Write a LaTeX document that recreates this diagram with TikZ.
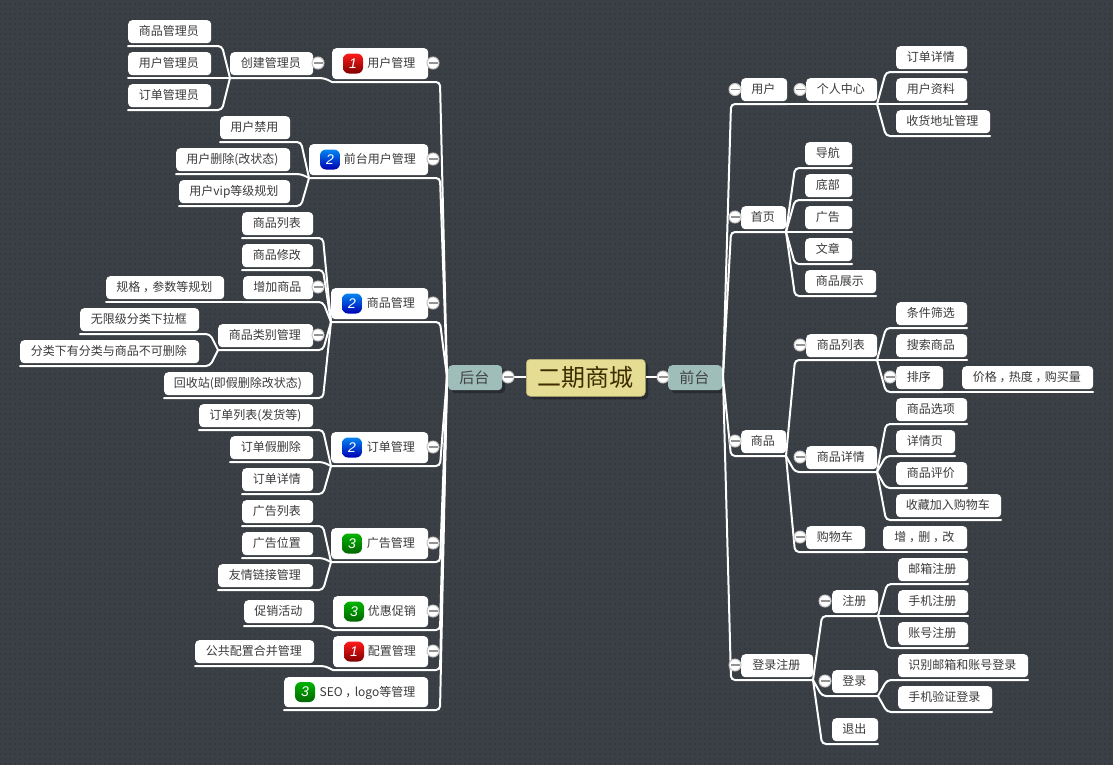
\documentclass[tikz,border=0pt]{standalone}
\usepackage{fontspec}
\setmainfont{Noto Sans CJK SC}
\newfontfamily\numfont{Liberation Sans}
\usetikzlibrary{calc,patterns.meta,shadows}
\definecolor{bgc}{HTML}{3A4045}
\definecolor{dotc}{HTML}{30353A}
\definecolor{txtc}{HTML}{3A3A3A}
\definecolor{rootc}{HTML}{E6DD95}
\definecolor{rootT}{HTML}{3F2D00}
\definecolor{brc}{HTML}{9FBDB9}
\definecolor{brT}{HTML}{444444}
\newcommand{\cma}{\hspace{.22em}，\hspace{-.22em}}
\tikzset{
 base/.style={anchor=north west,inner sep=0pt,rounded corners=4pt,font=\fontsize{12}{14}\selectfont,text=txtc},
 topic/.style={base,fill=white,text height=10pt,text depth=2pt},
 mainT/.style={topic},
 casted/.style={drop shadow={shadow xshift=3pt,shadow yshift=-3pt,fill=black,opacity=.3}},
 branchT/.style={base,casted,fill=brc,text=brT,font=\fontsize{15}{17}\selectfont},
 rootT/.style={base,casted,fill=rootc,draw=rootc!80!black,line width=.5pt,text=rootT,font=\fontsize{24}{28}\selectfont},
 link/.style={draw=white,line width=2pt,rounded corners=4pt,line cap=round},
 tog/.style={circle,draw=gray!45,fill=white,line width=1pt,minimum size=12pt,inner sep=0pt,
   path picture={\draw[gray!85,line width=1.2pt] ([xshift=-4.5pt]path picture bounding box.center) -- ([xshift=4.5pt]path picture bounding box.center);}},
 badge/.style={rounded corners=6pt,minimum size=20pt,inner sep=0pt,text=white,font=\fontsize{14}{14}\numfont\itshape},
 bred/.style={badge,top color=red!90!white,middle color=red!95!black,bottom color=red!50!black},
 bblue/.style={badge,top color=blue!45!cyan!95!black,middle color=blue!70!cyan!85!black,bottom color=blue!70!black},
 bgreen/.style={badge,top color=green!70!black,middle color=green!62!black,bottom color=green!40!black},
}
% #1 style, #2 name, #3 x0, #4 x1, #5 y0, #6 y1, #7 text
\newcommand{\tn}[7][topic]{%
 \node[#1,minimum width={(#4-#3)*1pt},minimum height={(#6-#5)*1pt}] (#2) at (#3,#5) {#7\hspace*{1.5pt}};
 \coordinate (#2-L) at (#3,#6+3);
 \coordinate (#2-R) at (#4,#6+3);
 \coordinate (#2-JL) at (#3-8,#6+3);
 \coordinate (#2-JR) at (#4+9,#6+3);
}
% main topic with badge: #1 colour style, #2 number, #3 name, #4 x0, #5 x1, #6 y0, #7 y1, #8 text
\newcommand{\tb}[8]{%
 \tn[mainT]{#3}{#4}{#5}{#6}{#7}{\hspace*{24pt}#8}
 \node[#1] (#3-icon) at (#4+21,{(#6+#7)/2}) {#2};
}
\newcommand{\lkL}[2]{\draw[link] (#1-L) -- (#1-JL |- #2-R) -- (#2-L);}
\newcommand{\lkR}[2]{\draw[link] (#1-R) -- (#1-JR |- #2-L) -- (#2-R);}
\newcommand{\tg}[3]{\node[tog] (#1) at (#2,#3) {};}
\begin{document}
\begin{tikzpicture}[x=1pt,y=-1pt]
\useasboundingbox (0,0) rectangle (1113,764);
\fill[bgc] (-3,-3) rectangle (1116,767);
\fill[pattern={Dots[distance=5pt,radius=.9pt]},pattern color=dotc] (-3,-3) rectangle (1116,767);

% ---- centre
\tn[rootT]{root}{526}{645}{359}{396}{二期商城}
\tn[branchT]{bk}{448}{502}{365}{390}{后台}
\tn[branchT]{fr}{668}{722}{365}{390}{前台}
\coordinate (bk-L) at (447,377);\coordinate (bk-JL) at (440,377);
\coordinate (fr-R) at (723,377);\coordinate (fr-JR) at (731,377);

% ---- left
\tb{bred}{1}{um}{332}{428}{48}{79}{用户管理}
\tn{cj}{230}{313}{52}{75}{创建管理员}
\tn{a1}{128}{211}{20}{43}{商品管理员}
\tn{a2}{128}{211}{52}{75}{用户管理员}
\tn{a3}{128}{211}{84}{107}{订单管理员}
\tb{bblue}{2}{qt}{309}{428}{144}{175}{前台用户管理}
\tn{b1}{220}{290}{116}{139}{用户禁用}
\tn{b2}{176}{290}{148}{171}{用户删除(改状态)}
\tn{b3}{179}{290}{180}{203}{用户vip等级规划}
\tb{bblue}{2}{sp}{331}{428}{288}{319}{商品管理}
\tn{c1}{242}{313}{212}{235}{商品列表}
\tn{c2}{242}{313}{244}{267}{商品修改}
\tn{c3}{243}{313}{276}{299}{增加商品}
\tn{c3a}{106}{224}{276}{299}{规格\cma 参数等规划}
\tn{c4}{218}{313}{324}{347}{商品类别管理}
\tn{c4a}{80}{199}{308}{331}{无限级分类下拉框}
\tn{c4b}{20}{199}{340}{363}{分类下有分类与商品不可删除}
\tn{c5}{164}{313}{372}{395}{回收站(即假删除改状态)}
\tb{bblue}{2}{od}{331}{428}{432}{463}{订单管理}
\tn{d1}{199}{313}{404}{427}{订单列表(发货等)}
\tn{d2}{230}{313}{436}{459}{订单假删除}
\tn{d3}{242}{313}{468}{491}{订单详情}
\tb{bgreen}{3}{ad}{331}{428}{528}{559}{广告管理}
\tn{e1}{242}{313}{500}{523}{广告列表}
\tn{e2}{242}{313}{532}{555}{广告位置}
\tn{e3}{218}{313}{564}{587}{友情链接管理}
\tb{bgreen}{3}{pr}{333}{428}{596}{627}{优惠促销}
\tn{f1}{244}{314}{600}{623}{促销活动}
\tb{bred}{1}{cf}{333}{428}{636}{667}{配置管理}
\tn{g1}{195}{314}{640}{663}{公共配置合并管理}
\tb{bgreen}{3}{se}{284}{428}{677}{707}{SEO\cma logo等管理}

% ---- right
\tn{u}{741}{787}{78}{101}{用户}
\tn{uc}{806}{877}{78}{101}{个人中心}
\tn{u1}{896}{967}{46}{69}{订单详情}
\tn{u2}{896}{967}{78}{101}{用户资料}
\tn{u3}{896}{990}{110}{133}{收货地址管理}
\tn{h}{741}{786}{206}{229}{首页}
\tn{h1}{805}{852}{142}{165}{导航}
\tn{h2}{805}{852}{174}{197}{底部}
\tn{h3}{805}{852}{206}{229}{广告}
\tn{h4}{805}{852}{238}{261}{文章}
\tn{h5}{805}{876}{270}{293}{商品展示}
\tn{p}{741}{786}{430}{453}{商品}
\tn{pl}{806}{877}{334}{357}{商品列表}
\tn{pl1}{896}{967}{302}{325}{条件筛选}
\tn{pl2}{896}{967}{334}{357}{搜索商品}
\tn{pl3}{896}{943}{366}{389}{排序}
\tn{pl3a}{962}{1093}{366}{389}{价格\cma 热度\cma 购买量}
\tn{pd}{806}{877}{446}{469}{商品详情}
\tn{pd1}{896}{967}{398}{421}{商品选项}
\tn{pd2}{896}{955}{430}{453}{详情页}
\tn{pd3}{896}{967}{462}{485}{商品评价}
\tn{pd4}{896}{1001}{494}{517}{收藏加入购物车}
\tn{pc}{806}{865}{526}{549}{购物车}
\tn{pc1}{883}{967}{526}{549}{增\cma 删\cma 改}
\tn{l}{741}{813}{654}{677}{登录注册}
\tn{lr}{832}{878}{590}{613}{注册}
\tn{lr1}{898}{968}{558}{581}{邮箱注册}
\tn{lr2}{898}{968}{590}{613}{手机注册}
\tn{lr3}{898}{968}{622}{645}{账号注册}
\tn{li}{832}{878}{670}{693}{登录}
\tn{li1}{898}{1028}{654}{677}{识别邮箱和账号登录}
\tn{li2}{898}{992}{686}{709}{手机验证登录}
\tn{lo}{832}{878}{718}{741}{退出}

% ---- connectors
\draw[white,line width=2.5pt] (root.west |- bk-L) -- (bk.east |- bk-L);
\draw[white,line width=2.5pt] (root.east |- bk-L) -- (fr.west |- bk-L);
\foreach \c in {um,qt,sp,od,ad,pr,cf,se}{\lkL{bk}{\c}}
\lkL{um}{cj}
\foreach \c in {a1,a2,a3}{\lkL{cj}{\c}}
\foreach \c in {b1,b2,b3}{\lkL{qt}{\c}}
\foreach \c in {c1,c2,c3,c4,c5}{\lkL{sp}{\c}}
\lkL{c3}{c3a}
\foreach \c in {c4a,c4b}{\lkL{c4}{\c}}
\foreach \c in {d1,d2,d3}{\lkL{od}{\c}}
\foreach \c in {e1,e2,e3}{\lkL{ad}{\c}}
\lkL{pr}{f1}
\lkL{cf}{g1}
\foreach \c in {u,h,p,l}{\lkR{fr}{\c}}
\lkR{u}{uc}
\foreach \c in {u1,u2,u3}{\lkR{uc}{\c}}
\foreach \c in {h1,h2,h3,h4,h5}{\lkR{h}{\c}}
\foreach \c in {pl,pd,pc}{\lkR{p}{\c}}
\foreach \c in {pl1,pl2,pl3}{\lkR{pl}{\c}}
\lkR{pl3}{pl3a}
\foreach \c in {pd1,pd2,pd3,pd4}{\lkR{pd}{\c}}
\lkR{pc}{pc1}
\foreach \c in {lr,li,lo}{\lkR{l}{\c}}
\foreach \c in {lr1,lr2,lr3}{\lkR{lr}{\c}}
\foreach \c in {li1,li2}{\lkR{li}{\c}}

% ---- toggles
\tg{t1}{508}{377}\tg{t2}{663}{377}
\tg{t3}{433}{63}\tg{t4}{318}{63}\tg{t5}{433}{159}\tg{t6}{433}{303}\tg{t7}{318}{287}\tg{t8}{318}{335}
\tg{t9}{433}{447}\tg{t10}{433}{543}\tg{t11}{433}{611}\tg{t12}{433}{651}
\tg{t13}{735}{89.5}\tg{t14}{800}{89.5}\tg{t15}{735}{217}\tg{t16}{735}{441}\tg{t17}{800}{345}
\tg{t18}{890}{377}\tg{t19}{800}{457}\tg{t20}{800}{537}\tg{t21}{735}{665}\tg{t22}{825}{601}\tg{t23}{825}{681}
\end{tikzpicture}
\end{document}
